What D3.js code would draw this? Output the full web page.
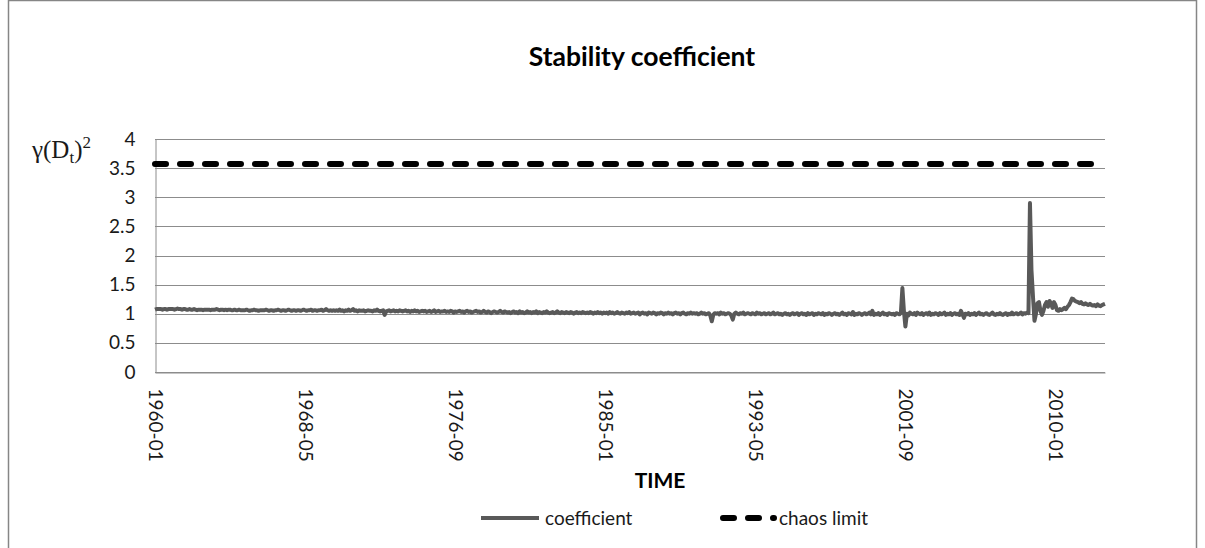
<!DOCTYPE html>
<html>
<head>
<meta charset="utf-8">
<script src="https://cdn.jsdelivr.net/npm/d3@7"></script>
<style>
  body { margin: 0; background: #fff; }
  svg { display: block; }
</style>
</head>
<body>
<div id="chart"></div>
<script>
// monthly values, one row per year
var coef1960s = [
  1.07,1.08,1.08,1.08,1.08,1.07,1.08,1.08,1.07,1.08,1.08,1.08,
  1.08,1.07,1.08,1.09,1.08,1.08,1.07,1.08,1.08,1.07,1.07,1.08,
  1.07,1.07,1.08,1.07,1.06,1.07,1.07,1.07,1.06,1.07,1.07,1.07,
  1.07,1.06,1.07,1.07,1.07,1.08,1.07,1.06,1.07,1.07,1.06,1.07,
  1.06,1.07,1.07,1.06,1.06,1.07,1.06,1.06,1.07,1.06,1.06,1.06,
  1.06,1.07,1.06,1.05,1.06,1.06,1.07,1.06,1.06,1.05,1.06,1.06,
  1.06,1.06,1.07,1.06,1.05,1.06,1.06,1.05,1.06,1.06,1.07,1.06,
  1.05,1.06,1.06,1.05,1.06,1.07,1.06,1.05,1.06,1.06,1.05,1.06,
  1.06,1.05,1.06,1.07,1.06,1.05,1.06,1.06,1.07,1.05,1.06,1.06,
  1.05,1.06,1.06,1.07,1.05,1.06,1.08,1.06,1.05,1.06,1.05,1.06
]
var coef1970s = [
  1.05,1.06,1.05,1.07,1.05,1.06,1.04,1.06,1.05,1.07,1.05,1.06,
  1.08,1.05,1.06,1.04,1.06,1.05,1.05,1.06,1.04,1.05,1.06,1.05,
  1.05,1.04,1.06,1.05,1.07,1.05,1.04,1.05,1.06,0.98,1.04,1.05,
  1.06,1.04,1.05,1.06,1.04,1.05,1.04,1.06,1.05,1.04,1.05,1.06,
  1.04,1.05,1.03,1.05,1.04,1.06,1.04,1.05,1.03,1.04,1.05,1.04,
  1.05,1.03,1.04,1.05,1.03,1.04,1.06,1.03,1.04,1.05,1.03,1.04,
  1.04,1.05,1.03,1.04,1.03,1.05,1.04,1.02,1.04,1.03,1.04,1.05,
  1.03,1.04,1.02,1.04,1.05,1.03,1.04,1.02,1.03,1.04,1.05,1.03,
  1.04,1.02,1.03,1.05,1.03,1.02,1.04,1.03,1.01,1.03,1.04,1.03,
  1.02,1.03,1.05,1.03,1.02,1.04,1.03,1.02,1.03,1.01,1.03,1.04
]
var coef1980s = [
  1.02,1.03,1.01,1.04,1.02,1.03,1.01,1.02,1.04,1.02,1.03,1.01,
  1.03,1.02,1.04,1.01,1.03,1.02,1.01,1.03,1.02,1.04,1.02,1.01,
  1.02,1.03,1.01,1.02,1.04,1.02,1.01,1.03,1.02,1.01,1.03,1.02,
  1.01,1.03,1.02,1.00,1.02,1.03,1.01,1.02,1.01,1.03,1.02,1.01,
  1.02,1.01,1.03,1.02,1.00,1.02,1.01,1.03,1.01,1.02,1.00,1.02,
  1.01,1.02,1.00,1.03,1.01,1.02,1.00,1.01,1.03,1.01,1.00,1.02,
  1.01,1.00,1.02,1.01,1.03,1.00,1.01,1.02,1.00,1.01,1.02,0.99,
  1.01,1.02,1.00,1.01,0.99,1.02,1.01,1.00,1.02,1.01,0.99,1.01,
  1.00,1.02,1.01,0.99,1.01,1.00,1.02,1.00,1.01,0.99,1.01,1.02,
  1.00,1.01,0.99,1.01,1.02,1.00,0.99,1.01,1.00,1.02,1.00,1.01
]
var coef1990s = [
  1.00,1.01,0.99,1.00,1.02,1.00,1.01,0.99,1.00,1.01,0.97,0.87,
  0.98,1.01,1.00,1.01,0.99,1.02,1.00,1.01,0.99,1.00,1.01,1.00,
  0.97,0.90,1.00,1.02,1.00,0.99,1.01,1.00,1.02,0.99,1.00,1.01,
  1.00,0.99,1.01,1.00,0.99,1.02,1.00,1.01,0.99,1.00,1.01,0.99,
  1.00,1.01,0.99,1.00,1.02,0.99,1.00,1.01,0.99,1.00,0.98,1.00,
  1.01,0.99,1.00,0.98,1.00,1.01,0.99,1.00,1.01,0.98,1.00,1.01,
  0.99,1.00,0.98,1.01,0.99,1.00,1.01,0.98,1.00,0.99,1.01,1.00,
  0.99,1.01,0.98,1.00,0.99,1.01,1.00,0.98,1.00,1.01,0.99,1.00,
  0.98,1.00,1.02,0.99,1.00,0.98,1.01,1.00,0.99,1.03,0.98,1.00,
  0.99,1.01,1.00,0.98,1.00,1.01,0.99,1.00,1.02,0.99,1.05,0.98
]
var coef2000s = [
  1.00,0.99,1.01,0.98,1.00,1.02,0.99,1.00,0.98,1.01,1.00,0.99,
  1.00,0.98,1.01,1.00,0.99,1.02,1.44,1.05,0.78,1.00,0.97,1.02,
  1.00,0.99,1.01,0.98,1.02,1.00,0.99,1.01,0.98,1.00,1.01,0.99,
  1.02,0.98,1.00,0.99,1.01,1.00,0.98,1.01,0.99,1.00,1.02,0.98,
  1.00,0.99,1.01,0.98,1.00,1.01,0.99,1.00,0.98,1.05,0.99,0.93,
  1.00,0.99,1.01,0.98,1.00,0.99,1.01,0.98,1.00,1.02,0.99,1.00,
  0.98,1.00,1.01,0.99,0.98,1.00,1.02,0.99,0.98,1.00,0.99,1.01,
  0.99,0.98,1.00,1.01,0.98,1.00,0.99,1.02,0.99,1.00,1.01,0.99,
  1.00,1.02,0.99,1.01,1.00,1.02,1.01,2.90,1.75,1.30,0.88,1.00,
  1.18,1.20,1.05,0.98,1.05,1.15,1.20,1.12,1.22,1.18,1.10,1.20
]
var coef2010s = [
  1.15,1.06,1.05,1.08,1.06,1.08,1.10,1.08,1.12,1.15,1.20,1.26,
  1.25,1.22,1.21,1.20,1.18,1.20,1.17,1.16,1.18,1.16,1.15,1.17,
  1.15,1.14,1.15,1.13,1.16,1.14,1.13,1.15,1.16,1.17
]
var chaosLimit = 3.5699
var startYear = 1960
var xTickLabels = ["1960-01", "1968-05", "1976-09", "1985-01", "1993-05", "2001-09", "2010-01"]
var yTicks = [0, 0.5, 1, 1.5, 2, 2.5, 3, 3.5, 4]
var seriesNames = ["coefficient", "chaos limit"]

var coefficient = coef1960s.concat(coef1970s, coef1980s, coef1990s, coef2000s, coef2010s)

// month labels for each value
var months = coefficient.map(function(d, i) {
  var yr = startYear + Math.floor(i / 12), m = i % 12 + 1
  return yr + "-" + (m < 10 ? "0" : "") + m
})

var width = 1205,
    height = 548,
    plotLeft = 155, plotRight = 1105, plotTop = 139, plotBottom = 372

var svg = d3.select("#chart")
  .append("svg")
    .attr("width", width)
    .attr("height", height)

// chart frame
svg.append("rect")
  .attr("x", 8.5).attr("y", 0.5)
  .attr("width", 1188).attr("height", 600)
  .attr("fill", "none")
  .attr("stroke", "#868686")
  .attr("stroke-width", 1.5)

var x = d3.scalePoint()
  .domain(months)
  .range([plotLeft, plotRight])

var y = d3.scaleLinear()
  .domain([0, 4])
  .range([plotBottom, plotTop])

// gridlines
svg.append("g")
  .selectAll("line")
  .data(yTicks)
  .enter()
  .append("line")
    .attr("x1", plotLeft).attr("x2", plotRight)
    .attr("y1", function(d) { return Math.round(y(d)) + 0.5 })
    .attr("y2", function(d) { return Math.round(y(d)) + 0.5 })
    .attr("stroke", "#8c8c8c")
    .attr("stroke-width", 1)

// y axis
var yAxis = svg.append("g")
  .attr("transform", "translate(" + (plotLeft + 0.5) + ",0)")
  .call(d3.axisLeft(y).tickValues(yTicks).tickSize(0).tickPadding(20).tickFormat(d3.format("")))
yAxis.select(".domain").attr("stroke", "#8c8c8c")
yAxis.selectAll("text")
  .style("font-family", "Lato, sans-serif")
  .style("font-size", "19px")
  .attr("fill", "#1a1a1a")

// x axis
var xAxis = svg.append("g")
  .attr("transform", "translate(0," + (plotBottom + 0.5) + ")")
  .call(d3.axisBottom(x).tickValues(xTickLabels).tickSize(0))
xAxis.select(".domain").attr("stroke", "#8c8c8c")
xAxis.selectAll("text")
  .attr("transform", "rotate(90)")
  .attr("x", 16)
  .attr("y", 0)
  .attr("dy", "0.36em")
  .style("text-anchor", "start")
  .style("font-family", "Lato, sans-serif")
  .style("font-size", "19px")
  .attr("fill", "#1a1a1a")

var line = d3.line()
  .x(function(d, i) { return x(months[i]) })
  .y(function(d) { return y(d) })

// coefficient series
svg.append("path")
  .datum(coefficient)
  .attr("d", line)
  .attr("fill", "none")
  .attr("stroke", "#595959")
  .attr("stroke-width", 4)
  .attr("stroke-linejoin", "round")

// chaos limit series
svg.append("path")
  .datum(months.map(function() { return chaosLimit }))
  .attr("d", line)
  .attr("fill", "none")
  .attr("stroke", "#000")
  .attr("stroke-width", 6)
  .attr("stroke-linecap", "round")
  .attr("stroke-dasharray", "11,14")

// title
svg.append("text")
  .attr("x", 642).attr("y", 66)
  .attr("text-anchor", "middle")
  .style("font-family", "Lato, sans-serif")
  .style("font-size", "26.5px")
  .style("font-weight", "bold")
  .attr("fill", "#000")
  .text("Stability coefficient")

// y axis title
var yt = svg.append("text")
  .attr("x", 32).attr("y", 158)
  .style("font-family", "'Liberation Serif', serif")
  .style("font-size", "25px")
  .attr("fill", "#1a1a1a")
yt.append("tspan").text("γ(D")
yt.append("tspan").attr("dy", 5).style("font-size", "17px").text("t")
yt.append("tspan").attr("dy", -5).text(")")
yt.append("tspan").attr("dy", -10).style("font-size", "17px").text("2")

// x axis title
svg.append("text")
  .attr("x", 660).attr("y", 488)
  .attr("text-anchor", "middle")
  .style("font-family", "Lato, sans-serif")
  .style("font-size", "21px")
  .style("font-weight", "bold")
  .attr("fill", "#000")
  .text("TIME")

// legend
var legend = svg.append("g")
legend.append("line")
  .attr("x1", 481).attr("x2", 539).attr("y1", 518).attr("y2", 518)
  .attr("stroke", "#595959").attr("stroke-width", 4)
legend.append("text")
  .attr("x", 545).attr("y", 518).attr("dy", "0.35em")
  .style("font-family", "Lato, sans-serif").style("font-size", "19px")
  .attr("fill", "#1a1a1a")
  .text(seriesNames[0])
legend.append("line")
  .attr("x1", 723).attr("x2", 774).attr("y1", 518).attr("y2", 518)
  .attr("stroke", "#000").attr("stroke-width", 6)
  .attr("stroke-linecap", "round")
  .attr("stroke-dasharray", "11,14")
legend.append("text")
  .attr("x", 779).attr("y", 518).attr("dy", "0.35em")
  .style("font-family", "Lato, sans-serif").style("font-size", "19px")
  .attr("fill", "#1a1a1a")
  .text(seriesNames[1])
</script>
</body>
</html>
